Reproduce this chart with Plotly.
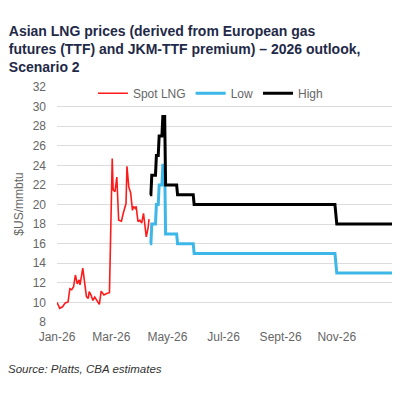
import plotly.graph_objects as go

# spot LNG (daily-ish)
spot_dates = [
    "2026-01-01", "2026-01-04", "2026-01-07", "2026-01-10", "2026-01-13",
    "2026-01-15", "2026-01-17", "2026-01-19", "2026-01-21", "2026-01-23",
    "2026-01-25", "2026-01-26", "2026-01-29", "2026-01-31", "2026-02-02",
    "2026-02-04", "2026-02-05", "2026-02-07", "2026-02-09", "2026-02-11",
    "2026-02-13", "2026-02-16", "2026-02-18", "2026-02-21", "2026-02-24",
    "2026-02-27", "2026-03-02", "2026-03-03", "2026-03-05", "2026-03-07",
    "2026-03-09", "2026-03-12", "2026-03-14", "2026-03-17", "2026-03-18",
    "2026-03-20", "2026-03-22", "2026-03-24", "2026-03-25", "2026-03-27",
    "2026-03-28", "2026-03-30", "2026-04-01", "2026-04-03", "2026-04-05",
    "2026-04-07", "2026-04-08", "2026-04-10", "2026-04-11",
]
spot_values = [
    10.0, 9.4, 9.55, 9.95, 10.05,
    11.4, 11.3, 11.6, 12.8, 11.9,
    12.3, 11.8, 13.5, 11.9, 10.6,
    10.4, 11.1, 10.75, 10.2, 10.55,
    10.3, 9.8, 11.15, 10.75, 10.9,
    11.0, 24.7, 21.5, 21.3, 22.8,
    18.4, 18.3, 19.1, 20.1, 23.9,
    21.8, 21.2, 19.4, 19.8, 19.6,
    19.8, 18.25, 18.4, 18.1, 19.1,
    17.3, 16.7, 17.6, 18.5,
]

# scenario 2 outlook
outlook_dates = [
    "2026-04-12", "2026-04-13", "2026-04-14", "2026-04-18", "2026-04-19",
    "2026-04-21", "2026-04-22", "2026-04-25", "2026-04-26", "2026-04-28",
    "2026-04-29", "2026-05-11", "2026-05-12", "2026-05-29", "2026-05-30",
    "2026-10-30", "2026-11-01", "2026-12-31",
]
low_values = [16, 16, 18, 18, 20, 20, 22, 22, 24, 24, 17, 17, 16, 16, 15, 15, 13, 13]
high_values = [21, 21, 23, 23, 25, 25, 27, 27, 29, 29, 22, 22, 21, 21, 20, 20, 18, 18]

tick_dates = ["2026-01-01", "2026-03-01", "2026-05-01", "2026-07-01", "2026-09-01", "2026-11-01"]
tick_labels = ["Jan-26", "Mar-26", "May-26", "Jul-26", "Sept-26", "Nov-26"]

FONT = "Liberation Sans, Arial, sans-serif"
GREY = "#666666"

fig = go.Figure()

fig.add_trace(go.Scatter(x=spot_dates, y=spot_values, name="Spot LNG", mode="lines",
                         line=dict(color="#ff1a1a", width=1.6)))
fig.add_trace(go.Scatter(x=outlook_dates, y=low_values, name="Low", mode="lines",
                         line=dict(color="#3cb7e8", width=3)))
fig.add_trace(go.Scatter(x=outlook_dates, y=high_values, name="High", mode="lines",
                         line=dict(color="#000000", width=3)))

# page body has an 8px margin, so the figure is laid out 8px up/left of the target
fig.update_layout(
    width=400,
    height=400,
    margin=dict(l=49, r=16, t=79, b=86, autoexpand=False),
    paper_bgcolor="white",
    plot_bgcolor="white",
    font=dict(family=FONT, color=GREY, size=11),
    title=dict(
        text="<b>Asian LNG prices (derived from European gas<br>"
             "futures (TTF) and JKM-TTF premium) – 2026 outlook,<br>"
             "Scenario 2</b>",
        x=0.002, xanchor="left", xref="container",
        y=0.93, yanchor="top", yref="container",
        font=dict(family=FONT, size=14, color="#1f2a48"),
    ),
    legend=dict(
        orientation="h",
        x=0.458, xanchor="center",
        y=1.035, yanchor="top",
        bgcolor="rgba(255,255,255,0)",
        font=dict(size=12, color=GREY),
        itemwidth=30,
        tracegroupgap=0,
    ),
    showlegend=True,
)

fig.update_xaxes(
    type="date",
    range=["2026-01-01", "2026-12-31"],
    tickvals=tick_dates,
    ticktext=tick_labels,
    showgrid=False,
    zeroline=False,
    showline=False,
    ticks="",
    automargin=False,
    ticklabelstandoff=6,
    tickfont=dict(size=12, color=GREY),
)

fig.update_yaxes(
    range=[8, 32],
    dtick=2,
    tick0=8,
    showgrid=True,
    gridcolor="#dcdcdc",
    gridwidth=1,
    zeroline=False,
    showline=False,
    ticks="",
    automargin=False,
    ticklabelstandoff=10,
    tickfont=dict(size=12, color=GREY),
)

# y-axis title as an annotation so it can sit closer to the tick labels
fig.add_annotation(
    text="$US/mmbtu",
    xref="paper", yref="paper",
    x=-0.116, xanchor="center",
    y=0.5, yanchor="middle",
    textangle=-90,
    showarrow=False,
    font=dict(family=FONT, size=12, color=GREY),
)

fig.add_annotation(
    text="<i>Source: Platts, CBA estimates</i>",
    xref="paper", yref="paper",
    x=-0.152, xanchor="left",
    y=-0.2, yanchor="middle",
    showarrow=False,
    font=dict(family=FONT, size=11.5, color="#333333"),
)

fig.write_html("out.html")
